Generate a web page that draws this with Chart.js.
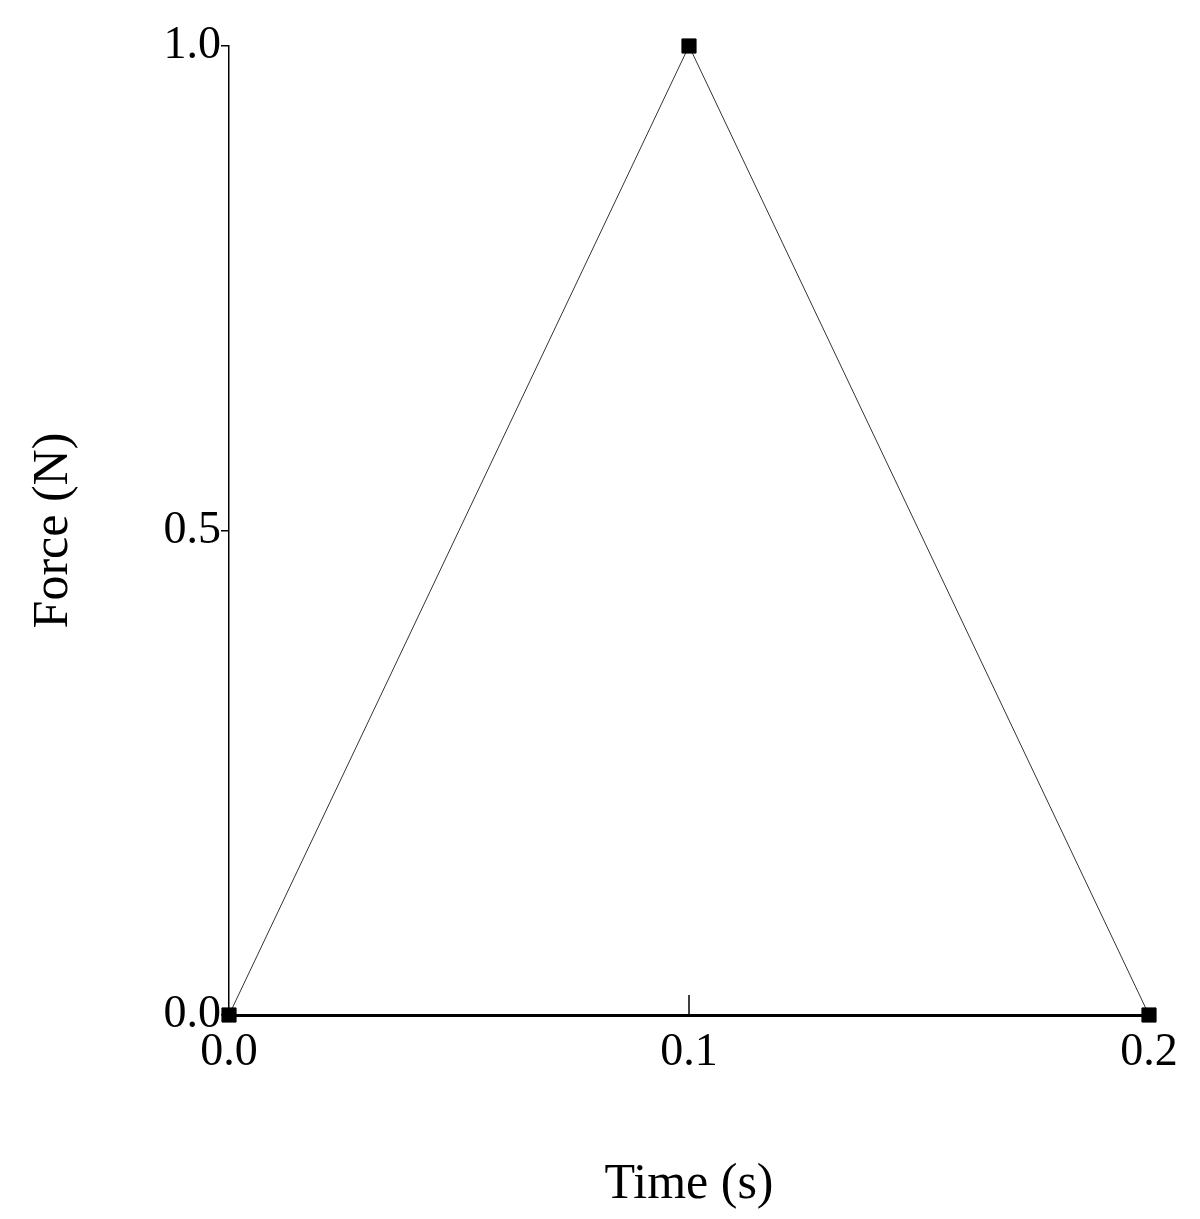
<!DOCTYPE html>
<html><head><meta charset="utf-8">
<script src="https://cdn.jsdelivr.net/npm/chart.js@4"></script>
<style>html,body{margin:0;padding:0;background:#fff}#w{width:1200px;height:1219px}</style>
</head><body><div id="w"><canvas id="c"></canvas></div>
<script>
const timeS = [0.0, 0.1, 0.2];
const forceN = [0.0, 1.0, 0.0];
const xTicks = [0.0, 0.1, 0.2];
const yTicks = [0.0, 0.5, 1.0];

const inTicks = {
  id:'inTicks',
  afterDraw(ch){
    const c=ch.ctx, x=ch.scales.x, y=ch.scales.y;
    c.save(); c.strokeStyle='#000'; c.lineWidth=1.5;
    [0.1].forEach(v=>{const px=x.getPixelForValue(v);c.beginPath();c.moveTo(px,y.bottom);c.lineTo(px,y.bottom-20);c.stroke();});
    c.restore();
  }
};
new Chart(document.getElementById('c'),{
  type:'line',
  data:{datasets:[{data:timeS.map((t,i)=>({x:t,y:forceN[i]})),borderColor:'#333',borderWidth:1,clip:false,
    pointStyle:'rect',pointRadius:10,pointBackgroundColor:'#000',pointBorderColor:'#000',tension:0}]},
  options:{responsive:true,maintainAspectRatio:false,animation:false,
    layout:{padding:{top:46,right:51,left:0,bottom:0}},
    plugins:{legend:{display:false},tooltip:{enabled:false}},
    scales:{
      x:{type:'linear',min:0,max:0.2,
        afterBuildTicks(s){s.ticks=xTicks.map(v=>({value:v}));},
        afterFit(s){s.height=204;},
        grid:{display:false},border:{color:'#000',width:3},
        ticks:{color:'#000',font:{family:'Liberation Serif',size:46},padding:2,callback:v=>v.toFixed(1),maxRotation:0},
        title:{display:true,text:'Time (s)',color:'#000',font:{family:'Liberation Serif',size:50},padding:{top:20}}},
      y:{type:'linear',min:0,max:1,
        afterBuildTicks(s){s.ticks=yTicks.map(v=>({value:v}));},
        afterFit(s){s.width=229;},
        grid:{drawOnChartArea:false,tickLength:8,color:'#000',lineWidth:1.5},border:{color:'#000',width:1.5},
        ticks:{color:'#000',font:{family:'Liberation Serif',size:46},padding:0,callback:v=>v.toFixed(1)},
        title:{display:true,text:'Force (N)',color:'#000',font:{family:'Liberation Serif',size:50},padding:{top:24,bottom:0}}}
    }},
  plugins:[inTicks]
});
</script></body></html>
